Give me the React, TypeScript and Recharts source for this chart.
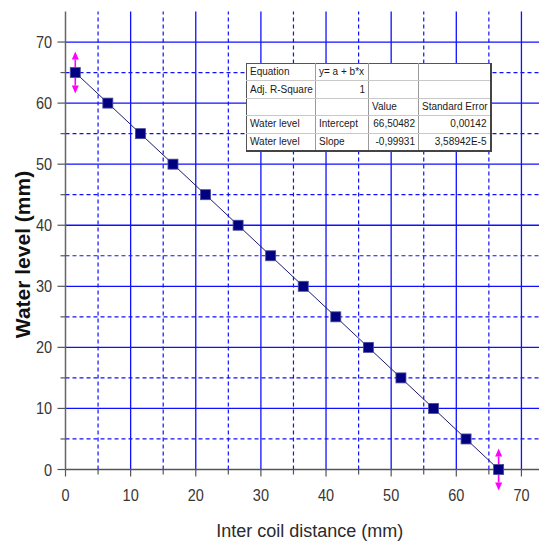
import React from 'react';
import { ComposedChart, Line, Scatter, XAxis, YAxis, ReferenceLine, Label } from 'recharts';

// ---- data ----
const distance = [1.5, 6.5, 11.5, 16.5, 21.5, 26.5, 31.5, 36.5, 41.5, 46.5, 51.5, 56.5, 61.5, 66.5];
const waterLevel = [65, 60, 55, 50, 45, 40, 35, 30, 25, 20, 15, 10, 5, 0];
const xTicks = [0, 5, 10, 15, 20, 25, 30, 35, 40, 45, 50, 55, 60, 65, 70];
const yTicks = [0, 5, 10, 15, 20, 25, 30, 35, 40, 45, 50, 55, 60, 65, 70];
const majorGrid = [10, 20, 30, 40, 50, 60, 70];
const minorGrid = [5, 15, 25, 35, 45, 55, 65];
// fit-range selector markers (first and last data point)
const rangeMarkers = [
  { x: 1.5, y: 65 },
  { x: 66.5, y: 0 },
];
const tableRows = [
  ['Equation', 'y= a + b*x', '', ''],
  ['Adj. R-Square', '1', '', ''],
  ['', '', 'Value', 'Standard Error'],
  ['Water level', 'Intercept', '66,50482', '0,00142'],
  ['Water level', 'Slope', '-0,99931', '3,58942E-5'],
];
const rightAligned = [
  [false, false, false, false],
  [false, true, false, false],
  [false, false, false, false],
  [false, false, true, true],
  [false, false, true, true],
];

const data = distance.map((x, i) => ({ x, y: waterLevel[i] }));

const SANS = "'Liberation Sans', Arial, sans-serif";
const TICK_COLOR = '#3a3632';
const GRID_BLUE = '#1010ff';

const BottomTick = (props: any) => {
  const { x, y, payload } = props;
  const major = payload.value % 10 === 0;
  return (
    <g>
      <line x1={x} x2={x} y1={y} y2={y + (major ? 7 : 5)} stroke="#555" strokeWidth={1.2} />
      {major && (
        <text
          transform={`translate(${x} ${y + 31}) scale(1 1.2)`}
          textAnchor="middle"
          fontSize={14.5}
          fontFamily={SANS}
          fill={TICK_COLOR}
        >
          {payload.value}
        </text>
      )}
    </g>
  );
};

const LeftTick = (props: any) => {
  const { x, y, payload } = props;
  const major = payload.value % 10 === 0;
  return (
    <g>
      <line x1={x - (major ? 8 : 5)} x2={x} y1={y} y2={y} stroke="#555" strokeWidth={1.2} />
      {major && (
        <text
          transform={`translate(${x - 13.5} ${y + 6}) scale(1 1.15)`}
          textAnchor="end"
          fontSize={14.5}
          fontFamily={SANS}
          fill={TICK_COLOR}
        >
          {payload.value}
        </text>
      )}
    </g>
  );
};

const TopTick = (props: any) => {
  const { x, y, payload } = props;
  const major = payload.value % 10 === 0;
  return <line x1={x} x2={x} y1={y} y2={y + (major ? 8 : 4)} stroke="#666" strokeWidth={1.2} />;
};

const SquareDot = (p: any) => (
  <rect
    key={`d-${p.index}`}
    x={p.cx - 5}
    y={p.cy - 5}
    width={10}
    height={10}
    fill="#000080"
    stroke="#4a4a9a"
    strokeWidth={0.8}
  />
);

const RangeArrow = (p: any) => {
  const { cx, cy } = p;
  const h = 21;
  const head = 8;
  const w = 3.5;
  const c = '#ff00ff';
  return (
    <g>
      <line x1={cx} x2={cx} y1={cy - h + head} y2={cy - 5} stroke={c} strokeWidth={1.6} />
      <line x1={cx} x2={cx} y1={cy + 5} y2={cy + h - head} stroke={c} strokeWidth={1.6} />
      <polygon points={`${cx},${cy - h} ${cx - w},${cy - h + head} ${cx + w},${cy - h + head}`} fill={c} />
      <polygon points={`${cx},${cy + h} ${cx - w},${cy + h - head} ${cx + w},${cy + h - head}`} fill={c} />
    </g>
  );
};

const colWidths = [69, 53, 50, 72];

export default function App() {
  return (
    <div style={{ position: 'relative', width: 539, height: 534, overflow: 'hidden', background: '#fff' }}>
      <ComposedChart width={546} height={534} data={data} margin={{ top: 3.5, right: 0, bottom: 0, left: 0 }}>
        {minorGrid.map((v) => (
          <ReferenceLine key={`mx${v}`} x={v} stroke={GRID_BLUE} strokeWidth={1.2} strokeDasharray="4 3" zIndex={-50} />
        ))}
        {minorGrid.map((v) => (
          <ReferenceLine key={`my${v}`} y={v} stroke={GRID_BLUE} strokeWidth={1.2} strokeDasharray="4 3" zIndex={-50} />
        ))}
        {majorGrid.map((v) => (
          <ReferenceLine key={`Mx${v}`} x={v} stroke={GRID_BLUE} strokeWidth={1.3} zIndex={-50} />
        ))}
        {majorGrid.map((v) => (
          <ReferenceLine key={`My${v}`} y={v} stroke={GRID_BLUE} strokeWidth={1.3} zIndex={-50} />
        ))}
        <XAxis
          dataKey="x"
          type="number"
          domain={[0, 75]}
          ticks={xTicks}
          interval={0}
          height={72.5}
          tickSize={0}
          tickMargin={0}
          tickLine={false}
          tick={<BottomTick />}
          axisLine={{ stroke: '#555', strokeWidth: 1.5 }}
        >
          <Label
            content={(lp: any) => {
              const vb = lp.viewBox;
              return (
                <text
                  x={vb.x + vb.width / 2}
                  y={vb.y + 67}
                  textAnchor="middle"
                  fontSize={18}
                  fontFamily={SANS}
                  fill="#2b2b2b"
                >
                  Inter coil distance (mm)
                </text>
              );
            }}
          />
        </XAxis>
        <XAxis
          xAxisId="top"
          orientation="top"
          type="number"
          domain={[0, 75]}
          ticks={xTicks}
          interval={0}
          height={0}
          tickSize={0}
          tickMargin={0}
          tickLine={false}
          tick={<TopTick />}
          axisLine={{ stroke: '#777', strokeWidth: 1.2 }}
        />
        <YAxis
          type="number"
          domain={[0, 75]}
          ticks={yTicks}
          interval={0}
          width={57.5}
          tickSize={0}
          tickMargin={0}
          tickLine={false}
          tick={<LeftTick />}
          axisLine={{ stroke: '#666', strokeWidth: 1.5 }}
        >
          <Label
            content={(lp: any) => {
              const vb = lp.viewBox;
              const cx = vb.x + 14;
              const cy = vb.y + vb.height / 2 + 14;
              return (
                <text
                  x={cx}
                  y={cy}
                  transform={`rotate(-90 ${cx} ${cy})`}
                  textAnchor="middle"
                  dominantBaseline="central"
                  fontSize={21}
                  fontWeight="bold"
                  fontFamily={SANS}
                  fill="#111"
                >
                  Water level (mm)
                </text>
              );
            }}
          />
        </YAxis>
        <Scatter data={rangeMarkers} dataKey="y" shape={RangeArrow} isAnimationActive={false} />
        <Line
          dataKey="y"
          stroke="#1a1a70"
          strokeWidth={1}
          dot={SquareDot}
          activeDot={false}
          isAnimationActive={false}
        />
      </ComposedChart>
      <table
        style={{
          position: 'absolute',
          left: 238,
          top: 55,
          width: 244,
          height: 87,
          borderCollapse: 'collapse',
          tableLayout: 'fixed',
          background: '#fff',
          borderTop: '1px solid #555',
          borderLeft: '1px solid #555',
          borderRight: '2px solid #444',
          borderBottom: '2px solid #444',
          fontFamily: SANS,
          fontSize: 10,
          color: '#1a1a1a',
        }}
      >
        <colgroup>
          {colWidths.map((w, i) => (
            <col key={i} style={{ width: w }} />
          ))}
        </colgroup>
        <tbody>
          {tableRows.map((row, r) => (
            <tr key={r} style={{ height: 17.4 }}>
              {row.map((cell, c) => (
                <td
                  key={c}
                  style={{
                    padding: '0 3px',
                    whiteSpace: 'nowrap',
                    overflow: 'hidden',
                    textAlign: rightAligned[r][c] ? 'right' : 'left',
                    borderBottom: r < tableRows.length - 1 ? '1px solid #c8c8c8' : undefined,
                    borderRight: c < row.length - 1 ? '1px solid #9a9a9a' : undefined,
                    lineHeight: '16px',
                  }}
                >
                  {cell}
                </td>
              ))}
            </tr>
          ))}
        </tbody>
      </table>
    </div>
  );
}
